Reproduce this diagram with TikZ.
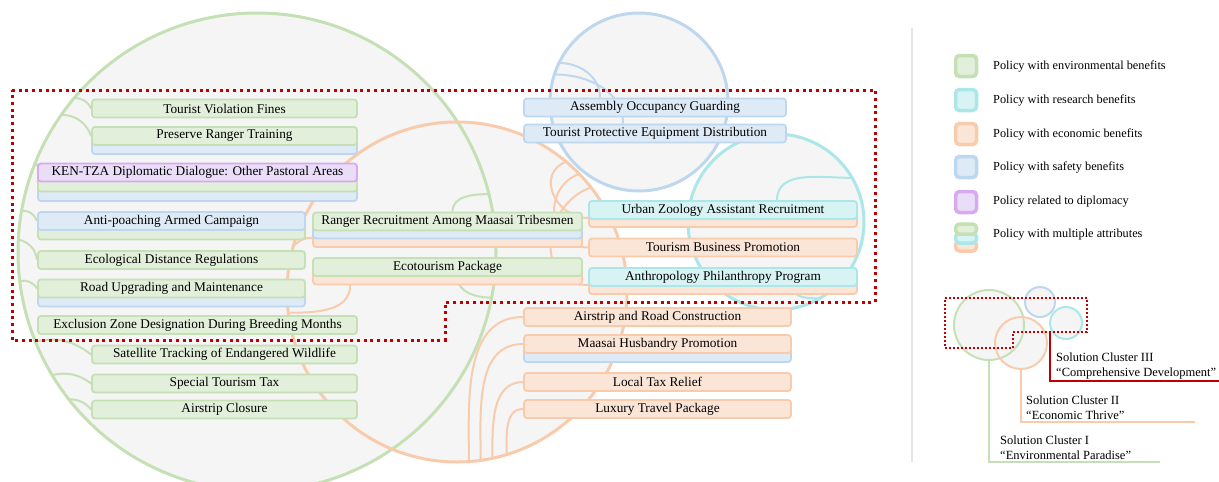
\documentclass[tikz,border=0pt]{standalone}
\usepackage{fontspec}
\setmainfont{Liberation Serif}
\usepackage{tikz}
\usepackage{xcolor}
\definecolor{envline}{HTML}{C5E0B4}
\definecolor{envfill}{HTML}{E2EFDA}
\definecolor{resline}{HTML}{ABE6E8}
\definecolor{resfill}{HTML}{D8F3F4}
\definecolor{ecoline}{HTML}{F8CBAD}
\definecolor{ecofill}{HTML}{FBE5D6}
\definecolor{safeline}{HTML}{BDD7EE}
\definecolor{safefill}{HTML}{DEEBF7}
\definecolor{dipline}{HTML}{D7AAF0}
\definecolor{dipfill}{HTML}{EADDF8}
\definecolor{discfill}{HTML}{F5F5F5}
\definecolor{clusterred}{HTML}{C00000}
\pgfdeclarelayer{back}
\pgfdeclarelayer{links}
\pgfsetlayers{back,links,main}
\tikzset{
    policy-box/.style = {rectangle, rounded corners=3pt, line width=1.8pt, inner sep=0pt, minimum height=18pt, font=\fontsize{13.3}{15}\selectfont},
    env-box/.style = {policy-box, draw=envline, fill=envfill},
    res-box/.style = {policy-box, draw=resline, fill=resfill},
    eco-box/.style = {policy-box, draw=ecoline, fill=ecofill},
    safe-box/.style = {policy-box, draw=safeline, fill=safefill},
    dip-box/.style = {policy-box, draw=dipline, fill=dipfill},
    policy-disc/.style = {circle, fill=discfill, inner sep=0pt},
    env-link/.style = {draw=envline, line width=2pt},
    res-link/.style = {draw=resline, line width=2pt},
    eco-link/.style = {draw=ecoline, line width=2pt},
    safe-link/.style = {draw=safeline, line width=2pt},
    key-swatch/.style = {rectangle, rounded corners=4pt, line width=3.5pt, minimum width=21pt, minimum height=21pt, inner sep=0pt},
    key-layer/.style = {key-swatch, minimum height=10pt},
    key-text/.style = {anchor=west, inner sep=0pt, font=\fontsize{12.3}{14}\selectfont},
    cluster-text/.style = {anchor=south west, align=left, inner sep=1pt, font=\fontsize{12.5}{15}\selectfont},
    cluster-border/.style = {draw=clusterred, line width=3pt, dash pattern=on 3pt off 3.7pt},
}

\begin{document}
\begin{tikzpicture}[x=1pt,y=-1pt]
\useasboundingbox (0,0) rectangle (1219,482);

\begin{pgfonlayer}{back}
\node [policy-disc, minimum size=478pt] (G) at (257,252) {};
\node [policy-disc, minimum size=340pt] (O) at (457,292) {};
\node [policy-disc, minimum size=178pt] (B) at (639,102) {};
\node [policy-disc, minimum size=176pt] (C) at (776,222) {};
\draw [draw=envline, line width=3pt] (G) circle (239pt);
\draw [draw=ecoline, line width=3pt] (O) circle (170pt);
\draw [draw=safeline, line width=3pt] (B) circle (89pt);
\draw [draw=resline, line width=3pt] (C) circle (88pt);

\node [policy-disc, minimum size=70pt] (gk) at (989,325) {};
\node [policy-disc, minimum size=52pt] (ok) at (1021,343) {};
\node [policy-disc, minimum size=30pt] (bk) at (1040,302) {};
\node [policy-disc, minimum size=32pt] (ck) at (1066,323) {};
\draw [draw=envline, line width=2pt] (gk) circle (35pt);
\draw [draw=ecoline, line width=2pt] (ok) circle (26pt);
\draw [draw=safeline, line width=2pt] (bk) circle (15pt);
\draw [draw=resline, line width=2pt] (ck) circle (16pt);
\end{pgfonlayer}

\node [safe-box, minimum width=265pt] (prt-b) at (224.5,145) {};
\node [env-box, minimum width=265pt] (tvf) at (224.5,108.5) {Tourist Violation Fines};
\node [env-box, minimum width=265pt] (prt) at (224.5,136) {Preserve Ranger Training};
\node [safe-box, minimum width=319pt] (ken-b) at (197.5,192) {};
\node [env-box, minimum width=319pt] (ken-g) at (197.5,182.5) {};
\node [dip-box, minimum width=319pt] (ken) at (197.5,172.5) {KEN-TZA Diplomatic Dialogue: Other Pastoral Areas};
\node [env-box, minimum width=267pt] (apc-g) at (171.5,230.5) {};
\node [safe-box, minimum width=267pt] (apc) at (171.5,221) {Anti-poaching Armed Campaign};
\node [env-box, minimum width=267pt] (edr) at (171.5,260) {Ecological Distance Regulations};
\node [safe-box, minimum width=267pt] (rum-b) at (171.5,297.5) {};
\node [env-box, minimum width=267pt] (rum) at (171.5,288.5) {Road Upgrading and Maintenance};
\node [env-box, minimum width=319pt] (ezd) at (197.5,325) {Exclusion Zone Designation During Breeding Months};
\node [env-box, minimum width=265pt] (stw) at (224.5,354.5) {Satellite Tracking of Endangered Wildlife};
\node [env-box, minimum width=265pt] (stt) at (224.5,383.5) {Special Tourism Tax};
\node [env-box, minimum width=265pt] (acl) at (224.5,409.5) {Airstrip Closure};

\node [eco-box, minimum width=269pt] (rra-o) at (447.5,238) {};
\node [safe-box, minimum width=269pt] (rra-b) at (447.5,229.5) {};
\node [env-box, minimum width=269pt] (rra) at (447.5,221.5) {Ranger Recruitment Among Maasai Tribesmen};
\node [eco-box, minimum width=269pt] (etp-o) at (447.5,275.5) {};
\node [env-box, minimum width=269pt] (etp) at (447.5,267) {Ecotourism Package};

\node [safe-box, minimum width=262pt] (aog) at (655,107.5) {Assembly Occupancy Guarding};
\node [safe-box, minimum width=262pt] (tpe) at (655,133.5) {Tourist Protective Equipment Distribution};

\node [eco-box, minimum width=268pt] (uza-o) at (723,218) {};
\node [res-box, minimum width=268pt] (uza) at (723,210) {Urban Zoology Assistant Recruitment};
\node [eco-box, minimum width=268pt] (tbp) at (723,247.5) {Tourism Business Promotion};
\node [eco-box, minimum width=268pt] (app-o) at (723,285) {};
\node [res-box, minimum width=268pt] (app) at (723,277) {Anthropology Philanthropy Program};

\node [eco-box, minimum width=267pt] (airc) at (657.5,317) {Airstrip and Road Construction};
\node [safe-box, minimum width=267pt] (mhp-b) at (657.5,353) {};
\node [eco-box, minimum width=267pt] (mhp) at (657.5,344) {Maasai Husbandry Promotion};
\node [eco-box, minimum width=267pt] (ltr) at (657.5,382) {Local Tax Relief};
\node [eco-box, minimum width=267pt] (ltp) at (657.5,409) {Luxury Travel Package};

\begin{pgfonlayer}{links}
\draw [env-link] (G.140) to[bend left=35] (tvf.west);
\draw [env-link] (G.145) to[bend left=35] (prt.west);
\draw [env-link] (G.158) to[bend left=35] (ken-g.west);
\draw [env-link] (G.170) to[bend left=35] (apc.west);
\draw [env-link] (G.177) to[bend left=35] (edr.west);
\draw [env-link] (G.187) to[bend left=35] (rum.west);
\draw [env-link] (G.202) to[bend left=25] (stw.west);
\draw [env-link] (G.211) to[bend left=25] (stt.west);
\draw [env-link] (G.218) to[bend left=25] (acl.west);
\draw [env-link] (G.14) to[out=180,in=90] ([xshift=5pt]rra.north);
\draw [env-link] (G.-11) to[out=180,in=-90] ([xshift=10pt]etp.south);

\draw [eco-link] (O.-86) to[out=90,in=180] (airc.west);
\draw [eco-link] (O.-82) to[out=90,in=180] (mhp.west);
\draw [eco-link] (O.-78) to[out=90,in=180] (ltr.west);
\draw [eco-link] (O.-73) to[out=90,in=180] (ltp.west);
\draw [eco-link] (O.50) to[out=200,in=180,looseness=1.4] (uza-o.west);
\draw [eco-link] (O.44) to[out=200,in=180,looseness=1.4] (tbp.west);
\draw [eco-link] (O.38) to[out=200,in=180,looseness=1.4] (app-o.west);
\draw [eco-link] (O.165) to[bend left=30] (rra-o.west);
\draw [eco-link] (O.187) to[out=0,in=-90] ([xshift=38pt]etp-o.south west);

\draw [safe-link] (B.154) to[out=0,in=90] ([xshift=-55pt]aog.north);
\draw [safe-link] (B.162) to[out=0,in=90] ([xshift=-32pt]tpe.north);

\draw [res-link] (C.30) to[out=180,in=90] ([xshift=54pt]uza.north);
\draw [res-link] (C.-60) to[out=180,in=-90] ([xshift=70pt]app.south);
\end{pgfonlayer}

\draw [cluster-border] (12,90) -- (875,90) -- (875,302) -- (445,302) -- (445,340) -- (12,340) -- cycle;

\draw [black!10, line width=1.5pt] (912,28) -- (912,462);

\node [key-swatch, draw=envline, fill=envfill] (k-env) at (966,66) {};
\node [key-text] (k-env-t) at (993,66) {Policy with environmental benefits};
\node [key-swatch, draw=resline, fill=resfill] (k-res) at (966,100) {};
\node [key-text] (k-res-t) at (993,100) {Policy with research benefits};
\node [key-swatch, draw=ecoline, fill=ecofill] (k-eco) at (966,134) {};
\node [key-text] (k-eco-t) at (993,134) {Policy with economic benefits};
\node [key-swatch, draw=safeline, fill=safefill] (k-safe) at (966,167) {};
\node [key-text] (k-safe-t) at (993,167) {Policy with safety benefits};
\node [key-swatch, draw=dipline, fill=dipfill] (k-dip) at (966,202) {};
\node [key-text] (k-dip-t) at (993,202) {Policy related to diplomacy};
\node [key-layer, draw=ecoline, fill=ecofill] (k-multi-o) at (966,246) {};
\node [key-layer, draw=resline, fill=resfill] (k-multi-c) at (966,238) {};
\node [key-layer, draw=envline, fill=envfill] (k-multi) at (966,229) {};
\node [key-text] (k-multi-t) at (993,235) {Policy with multiple attributes};

\draw [draw=clusterred, line width=2pt, dash pattern=on 2pt off 2pt] (945,298) -- (1087,298) -- (1087,332) -- (1013,332) -- (1013,348) -- (945,348) -- cycle;
\coordinate (gk-end) at (1160,462);
\coordinate (ok-end) at (1195,422);
\coordinate (rk-start) at (1050,332);
\coordinate (rk-end) at (1219,381);
\draw [draw=envline, line width=1.8pt] (gk.south) |- (gk-end);
\draw [draw=ecoline, line width=1.8pt] (ok.south) |- (ok-end);
\draw [draw=clusterred, line width=2pt] (rk-start) |- (rk-end);
\node [cluster-text] (c-one) at (999,461) {Solution Cluster I\\“Environmental Paradise”};
\node [cluster-text] (c-two) at (1025,421) {Solution Cluster II\\“Economic Thrive”};
\node [cluster-text] (c-three) at (1055,380) {Solution Cluster III\\“Comprehensive Development”};
\end{tikzpicture}
\end{document}
